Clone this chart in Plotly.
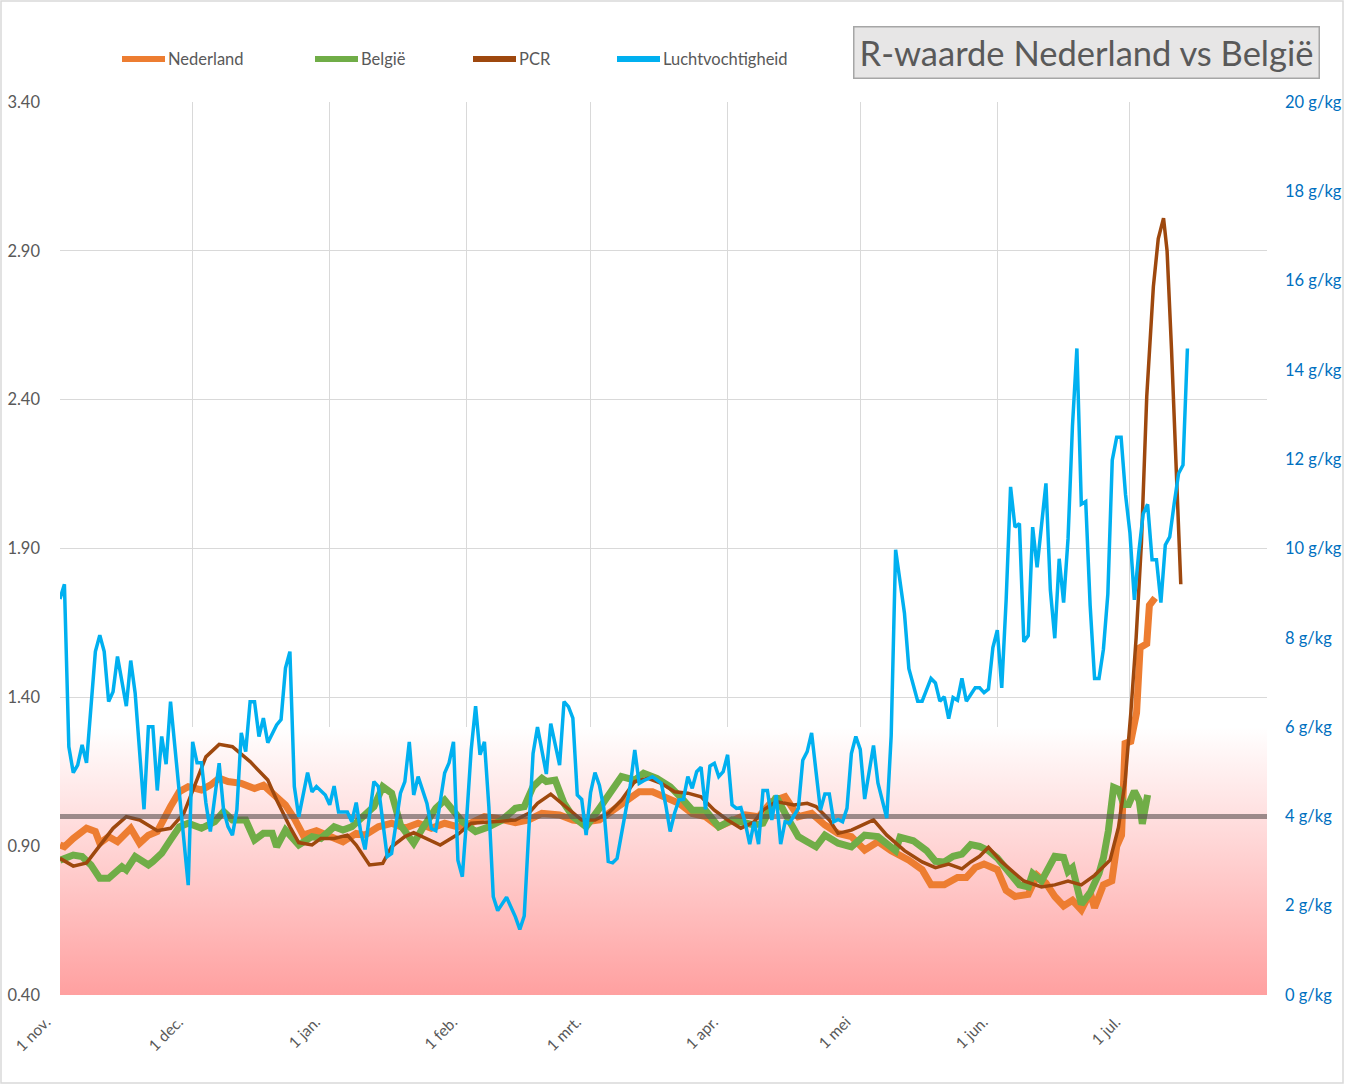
import plotly.graph_objects as go
import pandas as pd

# ---------------- data (day offsets from 1 Nov 2020) ----------------
START = "2020-11-01"
END = "2021-08-01"

NL_DAY = [0,1,3,6,8,9,11,13,16,18, 20,22,25,27,29,32,34,36,38,41,
          44,46,48,51,53,55,58,61,64,67, 69,72,75,78,81,84,87,90,92,96,
          99,103,106,109,113,116,119,122,125,128, 131,134,137,140,143,146,149,152,155,158,
          161,164,167,170,173,176,179,182,185,188, 192,195,197,200,203,205,207,209,212,214,
          216,219,221,223,225,227,229,231,233,234, 236.0,237.9,239.0,240.1,240.9,242.2,243.5,244.3,245.8,246.4,247.7]
NL_R = [0.904,0.898,0.926,0.96,0.949,0.91,0.932,0.915,0.96,0.91,
        0.937,0.949,1.033,1.083,1.10,1.089,1.105,1.128,1.117,1.111,
        1.094,1.105,1.078,1.038,0.993,0.937,0.952,0.932,0.915,0.943,
        0.937,0.965,0.977,0.96,0.977,0.96,0.977,0.965,0.971,0.999,
        0.993,0.979,0.988,1.01,1.005,0.988,0.982,0.988,1.021,1.055,
        1.083,1.083,1.061,1.044,1.01,0.999,0.965,0.988,1.005,0.999,
        1.05,1.066,0.999,1.01,0.971,0.943,0.932,0.887,0.915,0.885,
        0.853,0.821,0.77,0.77,0.795,0.795,0.828,0.84,0.821,0.751,
        0.731,0.738,0.802,0.776,0.731,0.699,0.718,0.686,0.744,0.693,
        0.77,0.783,0.899,0.937,1.245,1.252,1.348,1.567,1.58,1.709,1.734]

BE_DAY = [0,3,5,7,9,11,14,15,17,20, 21,23,25,27,29,32,35,37,39,42,
          44,46,48,49,51,54,57,59,62,64, 66,69,71,73,75,77,80,82,85,87,
          90,91,94,97,100,103,105,107,109,110, 112,114,116,119,122,125,127,130,132,135,
          138,141,143,146,149,152,154,157,159,162, 164,167,169,171,173,176,179,182,185,187,
          189,190,193,196,198,200,202,204,206,208, 210,212,214,217,219,220,222,224,225,227,
          228,229,231,233,235,236.0,237.1,238.3,239.4,240.6, 241.7,243.0,244.1,244.8,246.0]
BE_R = [0.853,0.87,0.865,0.837,0.792,0.792,0.831,0.82,0.865,0.837,
        0.848,0.876,0.921,0.965,0.977,0.96,0.982,1.016,0.988,0.988,
        0.921,0.943,0.943,0.898,0.954,0.904,0.932,0.926,0.965,0.954,
        0.965,1.01,1.033,1.10,1.078,0.971,0.91,0.96,1.027,1.055,
        1.0,0.982,0.949,0.965,0.988,1.027,1.033,1.10,1.128,1.117,
        1.122,1.044,0.999,0.965,1.027,1.089,1.134,1.122,1.145,1.128,
        1.10,1.055,1.021,1.021,0.965,0.988,0.982,0.971,0.977,1.066,
        1.01,0.932,0.915,0.898,0.937,0.91,0.898,0.937,0.932,0.911,
        0.885,0.93,0.918,0.885,0.849,0.847,0.866,0.873,0.905,0.899,
        0.885,0.86,0.821,0.77,0.763,0.808,0.783,0.847,0.866,0.862,
        0.815,0.828,0.705,0.744,0.808,0.86,0.95,1.098,1.091,1.04,
        1.04,1.085,1.053,0.975,1.072]

PCR_DAY = [0,3,6,9,12,15,18,22,25,28, 31,33,36,39,43,47,49,52,54,57,
           59,62,65,67,70,73,75,78,80,83, 86,90,93,98,103,106,108,111,113,116,
           118,121,124,127,130,133,136,139,142,145, 148,151,154,157,159,162,166,169,171,174,
           176,179,184,187,191,195,198,201,204,206, 208,210,213,216,218,222,225,228,231,234,
           237.5,239.4,240.9,242.2,243.4,244.6,245.8,247.3,248.4,249.6, 250.4,251.4,252.4,253.5]
PCR_R = [0.859,0.833,0.844,0.904,0.96,0.999,0.988,0.952,0.96,1.01,
         1.122,1.20,1.242,1.234,1.184,1.122,1.055,0.965,0.912,0.904,
         0.926,0.926,0.937,0.904,0.837,0.842,0.898,0.932,0.945,0.926,
         0.904,0.94,0.977,0.982,0.988,1.01,1.044,1.075,1.05,1.01,
         0.988,0.988,1.01,1.055,1.117,1.128,1.111,1.083,1.078,1.066,
         1.021,0.988,0.96,0.982,1.021,1.05,1.038,1.044,1.033,0.988,
         0.943,0.954,0.988,0.937,0.885,0.847,0.828,0.84,0.824,0.847,
         0.866,0.896,0.847,0.808,0.783,0.763,0.77,0.783,0.77,0.802,
         0.853,0.963,1.117,1.348,1.60,1.92,2.41,2.78,2.94,3.01,
         2.90,2.57,2.21,1.78]

HUM_DAY = [0,1,2,3,4,5,6,8,9,10, 11,12,13,15,16,17,19,20,21,22,
           23,24,25,26,27,29,30,31,32,33, 34,36,37,38,39,40,41,42,43,44,
           45,46,47,49,50,51,52,53,54,56, 57,58,60,61,62,63,65,66,67,68,
           69,71,72,74,75,77,78,79,80,81, 83,84,85,87,88,89,90,91,92,93,
           94,95,96,97,98,99,101,103,104,105, 106,107,108,110,111,113,114,115,116,117,
           118,119,120,121,122,123,124,125,126,128, 129,130,131,132,134,136,137,138,139,140,
           141,142,143,144,145,146,147,148,149,150, 151,152,153,154,155,156,157,158,159,160,
           161,162,163,164,165,167,168,169,170,171, 172,173,174,175,176,177,178,179,180,181,
           182,184,185,187,188,189,191,192,194,195, 197,198,199,200,201,202,203,204,205,207,
           208,209,210,211,212,213,214,215,216,217, 218,219,220,221,223,224,225,226,227,228,
           229,230,231,232,233,234,235,236,237,238, 239,240,241,242,243,244,245,246,247,248,
           249,250,251,252,253,254,255]
HUM_GKG = [8.87,9.2,5.56,4.98,5.15,5.6,5.2,7.69,8.06,7.69,
           6.57,6.79,7.58,6.47,7.49,6.76,4.16,6.01,6.01,4.58,
           5.79,5.17,6.57,5.56,4.67,2.46,5.67,5.2,5.2,4.3,
           3.66,5.19,4.14,3.77,3.58,4.14,5.87,5.45,6.57,6.57,
           5.79,6.2,5.65,6.05,6.17,7.32,7.69,4.67,3.99,4.98,
           4.55,4.67,4.48,4.26,4.68,4.1,4.1,3.88,4.31,3.66,
           3.26,4.78,4.67,3.1,3.17,4.52,4.78,5.67,4.48,4.89,
           4.29,3.73,3.68,4.97,5.2,5.67,3.02,2.65,3.99,5.49,
           6.47,5.38,5.67,4.22,2.2,1.89,2.19,1.75,1.47,1.77,
           3.62,5.41,6.0,4.95,6.08,5.15,6.57,6.46,6.2,4.48,
           4.38,3.58,4.53,4.98,4.7,4.18,2.99,2.96,3.06,4.22,
           4.7,5.49,4.74,4.8,4.89,4.74,4.26,3.66,4.07,4.37,
           4.38,4.89,4.63,5.0,5.1,4.16,5.13,5.19,4.89,5.0,
           5.38,4.26,4.18,4.2,3.85,3.38,3.88,3.38,4.58,4.58,
           3.92,4.48,3.38,3.88,3.85,4.18,5.26,5.45,5.87,5.0,
           4.14,4.5,4.5,3.88,3.93,3.88,4.18,5.41,5.79,5.5,
           4.39,5.59,4.75,3.96,5.81,9.97,8.55,7.31,6.58,6.58,
           7.09,6.99,6.58,6.68,6.19,6.66,6.6,7.09,6.58,6.88,
           6.88,6.77,6.85,7.78,8.17,6.88,8.85,11.38,10.48,10.56,
           7.91,8.05,10.48,9.58,11.46,9.07,7.99,9.77,8.79,10.22,
           12.75,14.48,10.99,11.05,8.72,7.09,7.09,7.74,8.98,11.98,
           12.49,12.49,11.21,10.35,8.85,9.92,10.78,10.99,9.75,9.75,
           8.79,10.08,10.26,11.0,11.68,11.87,14.48]

THRESHOLD = 1.0
BAND_TOP = 1.30
R_TICKS = [0.40, 0.90, 1.40, 1.90, 2.40, 2.90, 3.40]
HUM_TICKS = [0, 2, 4, 6, 8, 10, 12, 14, 16, 18, 20]
MONTH_TICKS = ["2020-11-01", "2020-12-01", "2021-01-01", "2021-02-01", "2021-03-01",
               "2021-04-01", "2021-05-01", "2021-06-01", "2021-07-01", "2021-08-01"]
MONTH_LABELS = ["1 nov.", "1 dec.", "1 jan.", "1 feb.", "1 mrt.",
                "1 apr.", "1 mei", "1 jun.", "1 jul.", ""]

SERIES = ["Nederland", "België", "PCR", "Luchtvochtigheid"]
COLORS = ["#ED7D31", "#70AD47", "#9E480E", "#00B0F0"]

# ---------------- figure ----------------
W, H = 1345, 1085
ML, MR, MT, MB = 60, 78, 102, 90
FONT = "Lato"
GREY_TXT = "#595959"

t0 = pd.Timestamp(START)


def to_dates(days):
    return [t0 + pd.Timedelta(days=d) for d in days]


def px_x(px):
    return (px - ML) / (W - ML - MR)


def px_y(py):
    return (H - MB - py) / (H - MT - MB)


fig = go.Figure()

# gradient band
fig.add_trace(go.Scatter(
    x=[START, END, END, START], y=[R_TICKS[0], R_TICKS[0], BAND_TOP, BAND_TOP],
    fill="toself", mode="lines", line=dict(width=0),
    fillgradient=dict(type="vertical", start=R_TICKS[0], stop=BAND_TOP,
                      colorscale=[[0, "rgb(255,160,160)"], [1, "rgb(255,255,255)"]]),
    hoverinfo="skip", showlegend=False))

fig.add_trace(go.Scatter(x=to_dates(NL_DAY), y=NL_R, mode="lines", name=SERIES[0],
                         line=dict(color=COLORS[0], width=7), showlegend=False))
fig.add_trace(go.Scatter(x=to_dates(BE_DAY), y=BE_R, mode="lines", name=SERIES[1],
                         line=dict(color=COLORS[1], width=7), showlegend=False))
fig.add_trace(go.Scatter(x=to_dates(PCR_DAY), y=PCR_R, mode="lines", name=SERIES[2],
                         line=dict(color=COLORS[2], width=3.5), showlegend=False))
fig.add_trace(go.Scatter(x=[START, END], y=[THRESHOLD, THRESHOLD], mode="lines",
                         line=dict(color="rgba(90,80,80,0.6)", width=5),
                         hoverinfo="skip", showlegend=False))
fig.add_trace(go.Scatter(x=to_dates(HUM_DAY), y=HUM_GKG, mode="lines", name=SERIES[3],
                         line=dict(color=COLORS[3], width=3.5), yaxis="y2", showlegend=False))

fig.update_layout(
    width=W, height=H,
    margin=dict(l=ML, r=MR, t=MT, b=MB, autoexpand=False),
    paper_bgcolor="white", plot_bgcolor="white",
    font=dict(family=FONT, color=GREY_TXT),
    showlegend=False,
    xaxis=dict(type="date", range=[START, END], tickvals=MONTH_TICKS, ticktext=MONTH_LABELS,
               tickangle=-45, showgrid=True, gridcolor="#D9D9D9", gridwidth=1.3,
               zeroline=False, showline=False, ticks="", ticklabelstandoff=14,
               ticklabelshift=-14,
               tickfont=dict(family=FONT, size=15.5, color=GREY_TXT)),
    yaxis=dict(range=[R_TICKS[0], R_TICKS[-1]], tickvals=R_TICKS, tickformat=".2f",
               showgrid=True, gridcolor="#D9D9D9", gridwidth=1.3, zeroline=False,
               showline=False, ticks="", ticklabelstandoff=19,
               tickfont=dict(family=FONT, size=16.5, color=GREY_TXT)),
    yaxis2=dict(overlaying="y", side="right", range=[HUM_TICKS[0], HUM_TICKS[-1]],
                tickvals=HUM_TICKS, ticktext=[f"{v} g/kg" for v in HUM_TICKS],
                showgrid=False, zeroline=False, showline=False, ticks="",
                ticklabelstandoff=17,
                tickfont=dict(family=FONT, size=16.5, color="#0070C0")),
)

# outer chart border
fig.add_shape(type="rect", xref="paper", yref="paper",
              x0=px_x(1), x1=px_x(1343), y0=px_y(1083), y1=px_y(1),
              line=dict(color="#D9D9D9", width=1.5), fillcolor="rgba(0,0,0,0)", layer="below")

# manual legend
legend_x = [122, 315, 473, 617]
for name, color, lx in zip(SERIES, COLORS, legend_x):
    fig.add_shape(type="line", xref="paper", yref="paper",
                  x0=px_x(lx), x1=px_x(lx + 43), y0=px_y(59), y1=px_y(59),
                  line=dict(color=color, width=6))
    fig.add_annotation(xref="paper", yref="paper", x=px_x(lx + 44), y=px_y(59),
                       text=name, showarrow=False, xanchor="left", yanchor="middle",
                       font=dict(family=FONT, size=16.5, color=GREY_TXT))

# title box
fig.add_annotation(xref="paper", yref="paper", x=px_x(1086), y=px_y(52),
                   text="R-waarde Nederland vs België", showarrow=False,
                   xanchor="center", yanchor="middle",
                   font=dict(family=FONT, size=34.5, color=GREY_TXT),
                   bgcolor="#E7E6E6", bordercolor="#A6A6A6", borderwidth=1.5,
                   borderpad=3, width=458, height=44)

fig.write_html("out.html")
